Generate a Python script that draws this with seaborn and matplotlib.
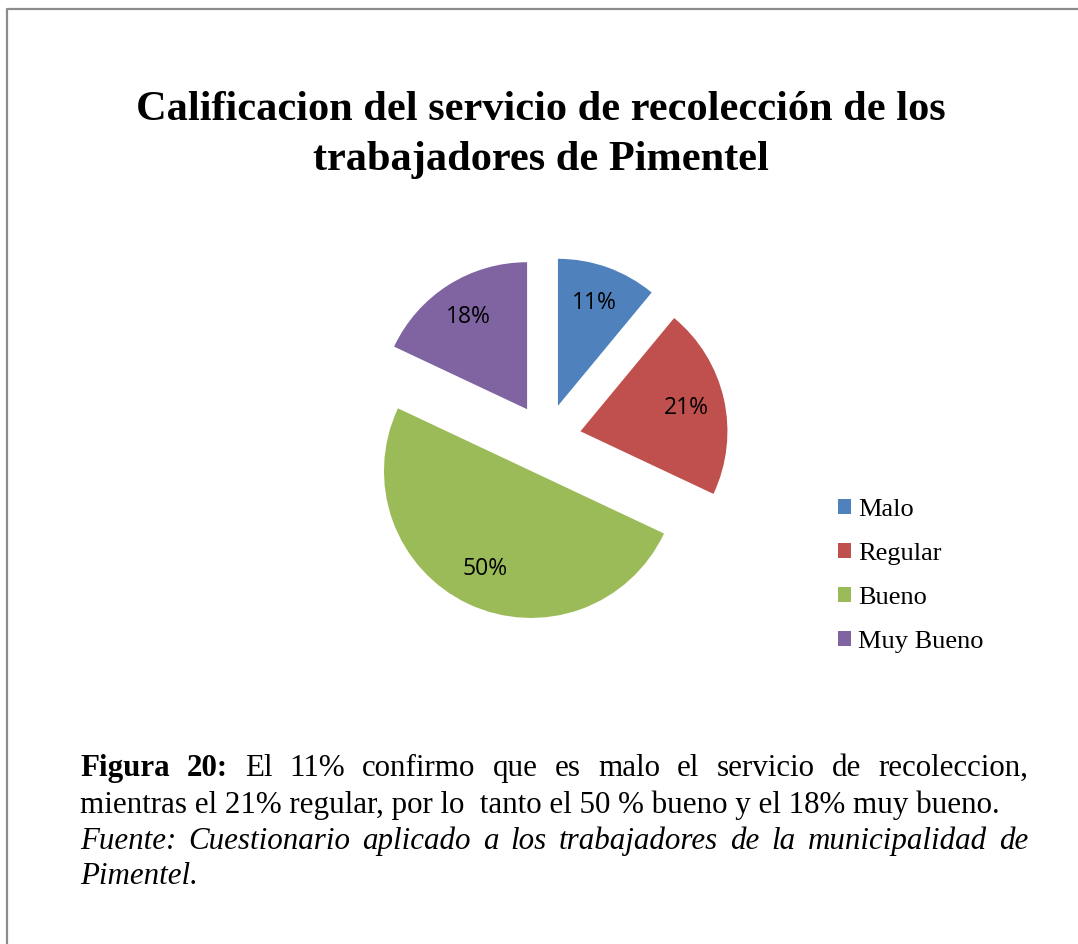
import matplotlib.pyplot as plt
import seaborn as sns
from matplotlib.lines import Line2D

# datos
categorias = ["Malo", "Regular", "Bueno", "Muy Bueno"]
porcentajes = [11, 21, 50, 18]
colores = ["#4F81BD", "#C0504D", "#9BBB59", "#8064A2"]

titulo = ["Calificacion del servicio de recolección de los", "trabajadores de Pimentel"]

W, H = 1078, 944
sns.set_theme(style="white")
plt.rcParams["font.family"] = ["Liberation Serif", "DejaVu Serif"]
plt.rcParams["text.color"] = "black"

fig = plt.figure(figsize=(W / 100, H / 100), dpi=100)
fig.patch.set_facecolor("white")


def fx(px):
    return px / W


def fy(py):
    return 1 - py / H


# marco gris (arriba e izquierda)
fig.add_artist(Line2D([fx(7), fx(7), 1], [0, fy(9), fy(9)], color="#8c8c8c",
                      lw=1.6, transform=fig.transFigure))

# torta
cx, cy, r, half = 546, 439, 147, 200
ax = fig.add_axes([fx(cx - half), fy(cy + half), 2 * half / W, 2 * half / H])
wedges, _, _ = ax.pie(
    porcentajes,
    colors=sns.color_palette(colores),
    explode=[0.24] * len(porcentajes),
    startangle=90,
    counterclock=False,
    autopct=lambda p: f"{p:.0f}%",
    pctdistance=0.74,
    wedgeprops=dict(linewidth=0),
    textprops=dict(fontfamily="Open Sans", fontsize=16.5, color="black"),
)
ax.set_xlim(-half / r, half / r)
ax.set_ylim(-half / r, half / r)
ax.set_aspect("equal")
ax.axis("off")

# titulo
for linea, base in zip(titulo, [120, 170]):
    fig.text(fx(541), fy(base), linea, ha="center", va="baseline", fontsize=30.5,
             fontweight="bold")

# leyenda
fig.legend(wedges, categorias, loc="center left", bbox_to_anchor=(fx(838), fy(576)),
           frameon=False, fontsize=19, handlelength=0.49, handleheight=0.49,
           handletextpad=0.27, labelspacing=0.84, borderpad=0, borderaxespad=0)

# pie de figura
renderer = fig.canvas.get_renderer()
size = 22.3


def justificar(palabras, y, x0=80, x1=1028):
    arts = [fig.text(0, fy(y), txt, fontsize=size, va="baseline", ha="left", **est)
            for txt, est in palabras]
    anchos = [t.get_window_extent(renderer).width for t in arts]
    gap = (x1 - x0 - sum(anchos)) / (len(arts) - 1)
    x = x0
    for t, w in zip(arts, anchos):
        t.set_x(fx(x))
        x += w + gap


negrita = dict(fontweight="bold")
normal = {}
cursiva = dict(fontstyle="italic")

linea1 = [("Figura", negrita), ("20:", negrita)] + [
    (w, normal) for w in "El 11% confirmo que es malo el servicio de recoleccion,".split()]
linea3 = [(w, cursiva) for w in
          "Fuente: Cuestionario aplicado a los trabajadores de la municipalidad de".split()]

justificar(linea1, 776)
fig.text(fx(80), fy(813), "mientras el 21% regular, por lo  tanto el 50 % bueno y el 18% muy bueno.",
         fontsize=size, va="baseline", ha="left")
justificar(linea3, 849)
fig.text(fx(80), fy(884), "Pimentel.", fontsize=size, va="baseline", ha="left", fontstyle="italic")

fig.savefig("out.png", dpi=100, facecolor="white")
